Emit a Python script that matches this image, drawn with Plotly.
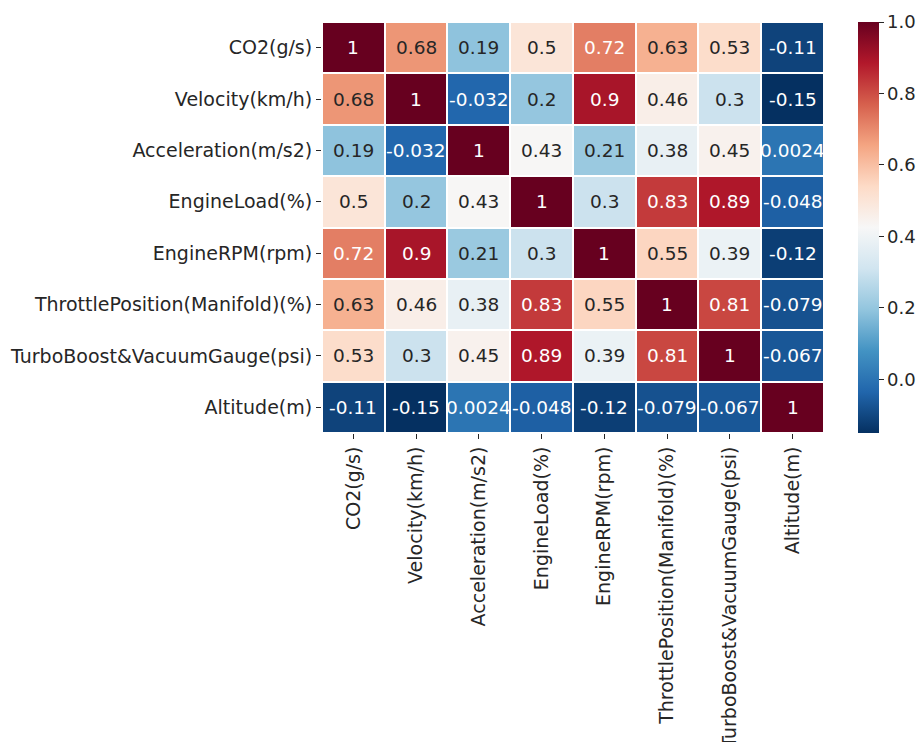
import plotly.graph_objects as go
import numpy as np

labels = [
    "CO2(g/s)",
    "Velocity(km/h)",
    "Acceleration(m/s2)",
    "EngineLoad(%)",
    "EngineRPM(rpm)",
    "ThrottlePosition(Manifold)(%)",
    "TurboBoost&VacuumGauge(psi)",
    "Altitude(m)",
]

row_co2 = [1, 0.68, 0.19, 0.5, 0.72, 0.63, 0.53, -0.11]
row_velocity = [0.68, 1, -0.032, 0.2, 0.9, 0.46, 0.3, -0.15]
row_accel = [0.19, -0.032, 1, 0.43, 0.21, 0.38, 0.45, 0.0024]
row_load = [0.5, 0.2, 0.43, 1, 0.3, 0.83, 0.89, -0.048]
row_rpm = [0.72, 0.9, 0.21, 0.3, 1, 0.55, 0.39, -0.12]
row_throttle = [0.63, 0.46, 0.38, 0.83, 0.55, 1, 0.81, -0.079]
row_turbo = [0.53, 0.3, 0.45, 0.89, 0.39, 0.81, 1, -0.067]
row_altitude = [-0.11, -0.15, 0.0024, -0.048, -0.12, -0.079, -0.067, 1]

corr = [row_co2, row_velocity, row_accel, row_load,
        row_rpm, row_throttle, row_turbo, row_altitude]

cbar_ticks = [0.0, 0.2, 0.4, 0.6, 0.8, 1.0]

# ColorBrewer RdBu, reversed (blue -> red)
rdbu_r = ["#053061", "#2166ac", "#4393c3", "#92c5de", "#d1e5f0", "#f7f7f7",
          "#fddbc7", "#f4a582", "#d6604d", "#b2182b", "#67001f"]
colorscale = [[i / (len(rdbu_r) - 1), c] for i, c in enumerate(rdbu_r)]

z = np.array(corr, dtype=float)
vmin, vmax = float(z.min()), float(z.max())


def hex_rgb(h):
    h = h.lstrip("#")
    return np.array([int(h[i:i + 2], 16) for i in (0, 2, 4)]) / 255.0


stops = np.linspace(0, 1, len(rdbu_r))
rgbs = np.array([hex_rgb(c) for c in rdbu_r])


def cell_rgb(v):
    t = (v - vmin) / (vmax - vmin)
    return np.array([np.interp(t, stops, rgbs[:, k]) for k in range(3)])


def luminance(rgb):
    lin = np.where(rgb <= 0.03928, rgb / 12.92, ((rgb + 0.055) / 1.055) ** 2.4)
    return 0.2126 * lin[0] + 0.7152 * lin[1] + 0.0722 * lin[2]


font_family = "DejaVu Sans"
dark = "#262626"
label_size = 19
cell_size = 18.5

annotations = []
for i, row in enumerate(corr):
    for j, v in enumerate(row):
        col = dark if luminance(cell_rgb(v)) > 0.408 else "white"
        annotations.append(dict(
            x=labels[j], y=labels[i], text=format(v, ".2g"),
            showarrow=False, xref="x", yref="y",
            font=dict(family=font_family, size=cell_size, color=col),
        ))

# page geometry (pixels)
W, H = 921, 742
left, top, bottom = 322, 22, 309
heat_right = 827
cbar_left = 858
plot_w = W - left

fig = go.Figure(go.Heatmap(
    z=z, x=labels, y=labels,
    colorscale=colorscale, zmin=vmin, zmax=vmax,
    xgap=2, ygap=2,
    colorbar=dict(
        x=(cbar_left - left) / plot_w, xanchor="left", xpad=0,
        y=0.5, yanchor="middle", len=1.0, ypad=0,
        thickness=21, outlinewidth=0,
        tickvals=cbar_ticks, ticktext=[f"{t:.1f}" for t in cbar_ticks],
        ticks="outside", ticklen=5, tickcolor=dark,
        tickfont=dict(family=font_family, size=18, color=dark),
    ),
))

fig.update_layout(
    width=W, height=H,
    margin=dict(l=left, r=0, t=top, b=bottom, autoexpand=False),
    paper_bgcolor="white", plot_bgcolor="white",
    annotations=annotations,
    font=dict(family=font_family, size=label_size, color=dark),
)
fig.update_xaxes(
    domain=[0, (heat_right - left) / plot_w],
    tickangle=-90, ticks="outside", ticklen=5, tickcolor=dark,
    showgrid=False, zeroline=False, automargin=False,
    tickfont=dict(family=font_family, size=label_size, color=dark),
)
fig.update_yaxes(
    autorange="reversed", ticks="outside", ticklen=5, tickcolor=dark,
    showgrid=False, zeroline=False, automargin=False,
    tickfont=dict(family=font_family, size=label_size, color=dark),
)

fig.write_html("out.html")
